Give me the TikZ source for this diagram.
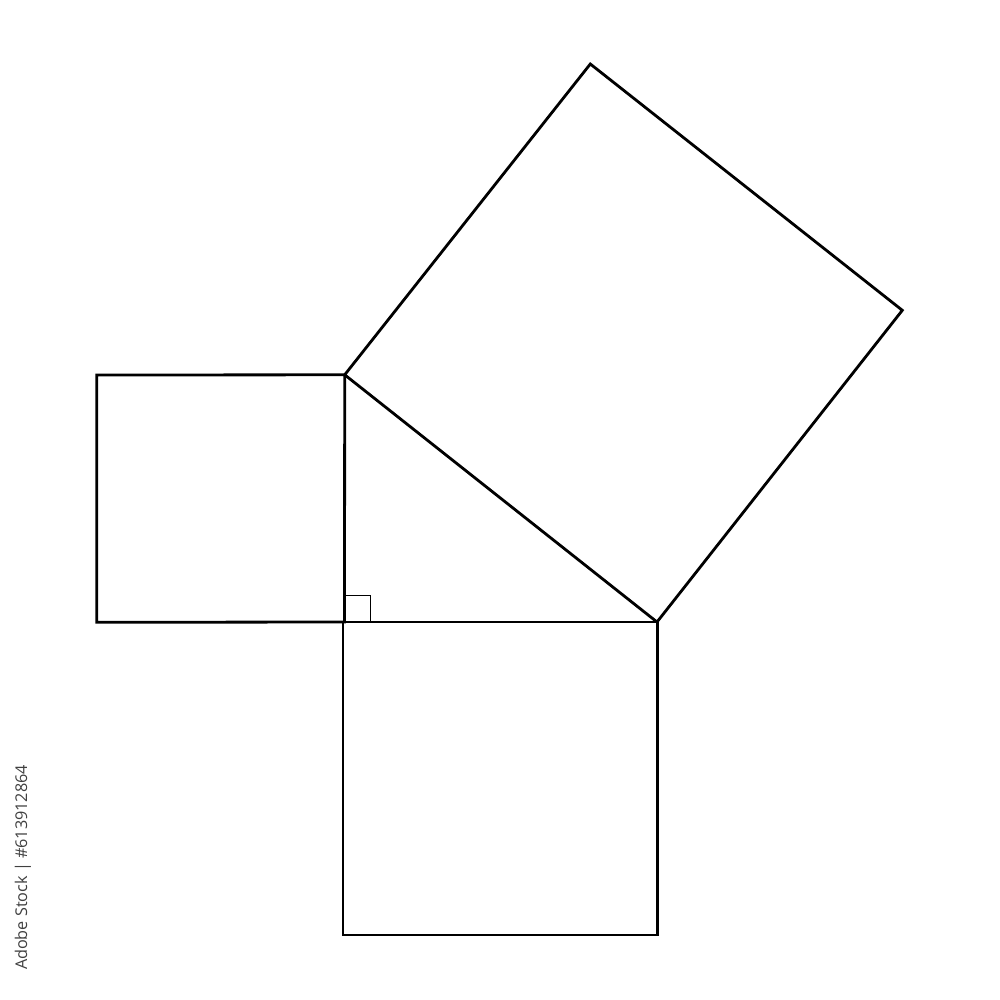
\documentclass[tikz,border=0pt]{standalone}
\usepackage{fontspec}
\setmainfont{Open Sans}
\begin{document}
\begin{tikzpicture}[x=1pt,y=-1pt,
  edge/.style={line width=2.8pt,line join=miter,black},
  mark90/.style={line width=1pt,black}]
\useasboundingbox[fill=white] (0,0) rectangle (1000,1000);
% triangle vertices
\coordinate (A) at (344.7,374.8);
\coordinate (C) at (344.5,622);
\coordinate (B) at (657,622);
% big square
\coordinate (P) at (590.3,64);
\coordinate (Q) at (902.3,310.3);
% left square
\coordinate (L1) at (96.7,375);
\coordinate (L2) at (96.7,622.3);
% bottom square
\coordinate (D1) at (343,622);
\coordinate (D2) at (343,935);
\coordinate (D3) at (657.3,935);
\coordinate (D4) at (657.3,622);
% right angle mark
\coordinate (R1) at (344.5,595.5);
\coordinate (R2) at (370.3,595.5);
\coordinate (R3) at (370.3,622);
\draw[mark90] (R1) -- (R2) -- (R3);
\draw[edge] (A) -- (P) -- (Q) -- (B) -- cycle;
\draw[edge] (A) -- (L1) -- (L2) -- (C) -- cycle;
\draw[edge] (D1) -- (D2) -- (D3) -- (D4) -- cycle;
\draw[edge] (C) -- (B);
\node[rotate=90,anchor=center,inner sep=0pt,text=black!75,font=\fontsize{16.2}{19}\selectfont] (id) at (23,867.5) {Adobe Stock | \#613912864};
\end{tikzpicture}
\end{document}
